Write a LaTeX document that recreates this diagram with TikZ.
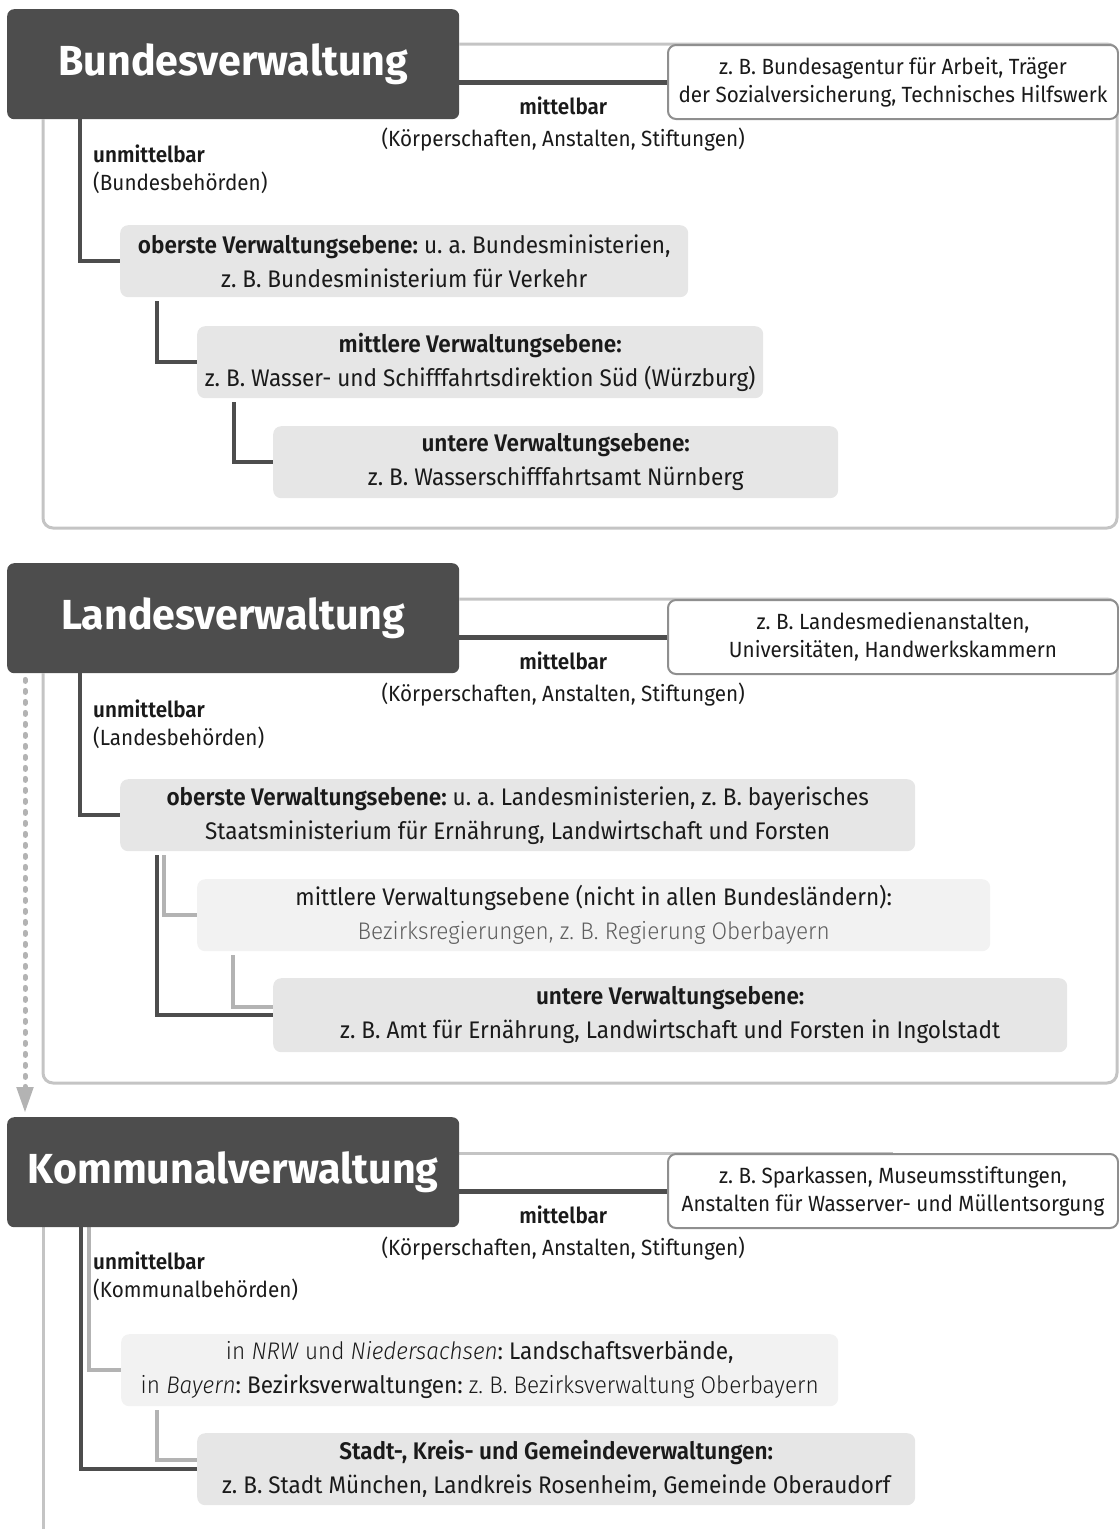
\documentclass[tikz,border=0pt]{standalone}
\usepackage{fontspec}
\setmainfont{Fira Sans}[FakeStretch=0.94, BoldFont={Fira Sans SemiBold}]
\newfontfamily\lightfont{Fira Sans Light}[FakeStretch=0.94]
\newfontfamily\titlefont{Fira Sans}[FakeStretch=0.98]
\usetikzlibrary{arrows.meta,backgrounds}

\definecolor{titlegray}{HTML}{4D4D4D}
\definecolor{boxgray}{HTML}{E6E6E6}
\definecolor{paleboxgray}{HTML}{F2F2F2}
\definecolor{linegray}{HTML}{B3B3B3}
\definecolor{framegray}{HTML}{C4C4C4}
\definecolor{bordergray}{HTML}{8F8F8F}
\definecolor{textgray}{HTML}{5E5E5E}
\definecolor{inkblack}{HTML}{1A1A1A}

\begin{document}
\frenchspacing
\begin{tikzpicture}[x=1pt, y=-1pt, text=inkblack,
  titlebox/.style={fill=titlegray, rounded corners=7pt, text=white, font=\fontsize{42}{44}\titlefont\bfseries, minimum width=452pt, minimum height=110pt, inner sep=0pt, anchor=north west},
  lvlbox/.style={fill=boxgray, rounded corners=8pt, align=center, font=\fontsize{24}{34}\selectfont, minimum height=72pt, inner sep=0pt, anchor=north west},
  palebox/.style={lvlbox, fill=paleboxgray},
  bspbox/.style={draw=bordergray, line width=2pt, fill=white, rounded corners=8pt, align=center, font=\fontsize{22}{28}\selectfont, minimum width=450pt, minimum height=74pt, inner sep=0pt, anchor=north west},
  sidelabel/.style={align=left, anchor=north west, inner sep=0pt, font=\fontsize{22}{28}\selectfont},
  midlabel/.style={align=center, anchor=north, inner sep=0pt, font=\fontsize{22}{32}\selectfont},
  darkline/.style={line width=4pt, draw=titlegray},
  lightline/.style={line width=4pt, draw=linegray},
  frameline/.style={line width=3pt, draw=framegray, rounded corners=10pt},
  dashline/.style={line width=5pt, draw=linegray, line cap=round, dash pattern=on 2pt off 9pt}]
\useasboundingbox (0,0) rectangle (1119,1529);

% Bundesverwaltung
\node[titlebox] (bund) at (7,9) {Bundesverwaltung};
\node[bspbox] (bundbsp) at (667,44) {z. B. Bundesagentur für Arbeit, Träger\\der Sozialversicherung, Technisches Hilfswerk};
\node[sidelabel] (bundunm) at (93,145) {\textbf{unmittelbar}\\(Bundesbehörden)};
\node[lvlbox, minimum width=568pt] (bobs) at (120,225) {\textbf{oberste Verwaltungsebene:} u. a. Bundesministerien,\\z. B. Bundesministerium für Verkehr};
\node[lvlbox, minimum width=566pt] (bmit) at (197,326) {\textbf{mittlere Verwaltungsebene:}\\z. B. Wasser- und Schifffahrtsdirektion Süd (Würzburg)};
\node[lvlbox, minimum width=565pt] (bunt) at (273,426) {\textbf{untere Verwaltungsebene:}\\z. B. Wasserschifffahrtsamt Nürnberg};

% Landesverwaltung
\node[titlebox] (land) at (7,563) {Landesverwaltung};
\node[bspbox] (landbsp) at (667,599) {z. B. Landesmedienanstalten,\\Universitäten, Handwerkskammern};
\node[sidelabel] (landunm) at (93,700) {\textbf{unmittelbar}\\(Landesbehörden)};
\node[lvlbox, minimum width=795pt] (lobs) at (120,779) {\textbf{oberste Verwaltungsebene:} u. a. Landesministerien, z. B. bayerisches\\Staatsministerium für Ernährung, Landwirtschaft und Forsten};
\node[palebox, minimum width=793pt] (lmit) at (197,879) {mittlere Verwaltungsebene (nicht in allen Bundesländern):\\{\lightfont\color{textgray}Bezirksregierungen, z. B. Regierung Oberbayern}};
\node[lvlbox, minimum width=794pt, minimum height=74pt] (lunt) at (273,978) {\textbf{untere Verwaltungsebene:}\\z. B. Amt für Ernährung, Landwirtschaft und Forsten in Ingolstadt};

% Kommunalverwaltung
\node[titlebox] (komm) at (7,1117) {Kommunalverwaltung};
\node[bspbox] (kommbsp) at (667,1153) {z. B. Sparkassen, Museumsstiftungen,\\Anstalten für Wasserver- und Müllentsorgung};
\node[sidelabel] (kommunm) at (93,1252) {\textbf{unmittelbar}\\(Kommunalbehörden)};
\node[palebox, minimum width=717pt] (knrw) at (121,1334) {{\lightfont in \textit{NRW} und \textit{Niedersachsen}}: Landschaftsverbände,\\{\lightfont in \textit{Bayern}}: Bezirksverwaltungen: {\lightfont z. B. Bezirksverwaltung Oberbayern}};
\node[lvlbox, minimum width=718pt] (kstadt) at (197,1433) {\textbf{Stadt-, Kreis- und Gemeindeverwaltungen:}\\z. B. Stadt München, Landkreis Rosenheim, Gemeinde Oberaudorf};

\begin{scope}[on background layer]
% frames
\draw[frameline] (bund.east |- bundbsp.north) -- (1117,44) -- (1117,528) -- (43,528) -- ([xshift=36pt]bund.south west);
\draw[frameline] (land.east |- landbsp.north) -- (1117,599) -- (1117,1083) -- (43,1083) -- ([xshift=36pt]land.south west);
\draw[frameline] (komm.east |- kommbsp.north) -- (kommbsp.north);
\draw[frameline] ([xshift=36pt]komm.south west) -- (43,1529);
% mittelbar
\draw[darkline, line width=5pt] (bund.east |- bundbsp.west) -- (bundbsp.west) node[midway, midlabel, below=12pt] (bundmb) {\textbf{mittelbar}\\(Körperschaften, Anstalten, Stiftungen)};
\draw[darkline, line width=5pt] (land.east |- landbsp.west) -- (landbsp.west) node[midway, midlabel, below=12pt] (landmb) {\textbf{mittelbar}\\(Körperschaften, Anstalten, Stiftungen)};
\draw[darkline, line width=5pt] (komm.east |- kommbsp.west) -- (kommbsp.west) node[midway, midlabel, below=12pt] (kommmb) {\textbf{mittelbar}\\(Körperschaften, Anstalten, Stiftungen)};
% unmittelbar
\draw[darkline] ([xshift=73pt]bund.south west) |- (bobs.west);
\draw[darkline] ([xshift=37pt, yshift=-4pt]bobs.south west) |- (bmit.west);
\draw[darkline] ([xshift=37pt, yshift=-4pt]bmit.south west) |- (bunt.west);
\draw[darkline] ([xshift=73pt]land.south west) |- (lobs.west);
\draw[darkline] ([xshift=37pt, yshift=-4pt]lobs.south west) |- (lunt.west);
\draw[lightline] ([xshift=44pt, yshift=-4pt]lobs.south west) |- (lmit.west);
\draw[lightline] ([xshift=36pt, yshift=-4pt]lmit.south west) |- ([yshift=8pt]lunt.west);
\draw[darkline] ([xshift=74pt]komm.south west) |- (kstadt.west);
\draw[lightline] ([xshift=82pt]komm.south west) |- (knrw.west);
\draw[lightline] ([xshift=36pt, yshift=-4pt]knrw.south west) |- ([yshift=9pt]kstadt.west);
% Weisung Land -> Kommune
\draw[dashline, -{Triangle[length=26pt, width=16pt]}] ([xshift=18pt, yshift=-6pt]land.south west) -- ([xshift=18pt, yshift=4pt]komm.north west);
\end{scope}
\end{tikzpicture}
\end{document}
